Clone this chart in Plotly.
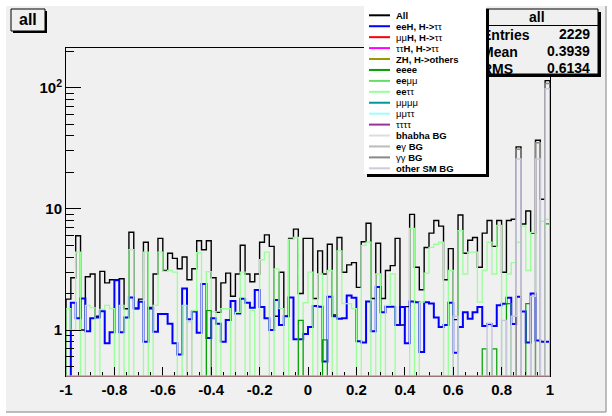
import numpy as np
import plotly.graph_objects as go

# ---------------- histogram contents: 100 bins on [-1, 1] ----------------
X_LO, X_HI, N_BINS = -1.0, 1.0, 100

all_counts = [
    1.8, 2.7, 6.0, 1.0, 2.75, 2.9, 1.3, 3.05, 2.45, 2.6,
    2.6, 2.65, 1.5, 6.4, 1.5, 1.8, 5.3, 1.5, 2.9, 5.7,
    3.1, 4.3, 3.9, 3.2, 4.0, 2.6, 3.2, 5.45, 4.6, 5.45,
    2.7, 1.4, 2.45, 2.95, 1.9, 2.9, 5.0, 2.9, 2.5, 2.9,
    5.3, 6.1, 4.9, 1.3, 3.0, 1.3, 5.7, 6.8, 2.0, 5.7,
    5.7, 1.82, 4.5, 2.9, 5.1, 1.33, 5.8, 3.0, 3.45, 3.6,
    2.25, 5.35, 7.6, 1.82, 5.2, 1.82, 3.1, 3.4, 5.7, 1.1,
    1.56, 9.0, 3.3, 2.15, 4.8, 6.3, 8.0, 7.2, 2.6, 4.7,
    1.22, 8.9, 4.3, 5.5, 5.8, 3.3, 6.3, 8.0, 4.9, 8.0,
    3.0, 8.0, 8.2, 32.4, 7.5, 9.6, 6.3, 36.8, 12.0, 114.0,
]

eeH_counts = [
    0.0, 1.68, 1.25, 1.82, 0.98, 1.25, 1.27, 1.43, 0.78, 0.96,
    2.58, 0.96, 1.27, 1.86, 1.51, 1.71, 0.8, 1.53, 0.97, 1.36,
    1.36, 1.13, 0.78, 0.63, 2.2, 1.23, 1.42, 0.95, 2.4, 0.86,
    1.25, 1.13, 0.8, 1.21, 1.74, 1.37, 1.81, 1.68, 1.53, 2.14,
    1.55, 1.25, 1.0, 1.77, 1.1, 1.3, 1.86, 0.84, 0.84, 0.93,
    1.06, 1.58, 1.56, 0.55, 1.88, 1.3, 1.24, 1.25, 1.93, 1.85,
    0.81, 0.79, 1.72, 0.98, 2.27, 1.4, 1.56, 1.56, 1.1, 1.55,
    0.78, 1.72, 1.7, 0.66, 1.7, 1.66, 1.27, 1.06, 1.1, 1.68,
    0.65, 1.06, 1.4, 1.24, 1.4, 1.55, 1.08, 1.12, 1.08, 1.6,
    1.65, 1.85, 1.12, 1.88, 1.42, 0.79, 2.0, 0.82, 0.8, 0.8,
]

eetautau_counts = [
    1.5, 1.0, 4.4, 0.0, 1.6, 1.53, 0.0, 1.48, 1.6, 1.5,
    0.0, 1.6, 0.0, 4.6, 0.0, 0.0, 4.4, 0.0, 1.6, 4.4,
    3.05, 3.1, 3.0, 0.0, 1.6, 0.0, 1.45, 4.36, 0.0, 3.03,
    1.42, 0.0, 1.5, 1.5, 0.0, 1.4, 3.0, 0.0, 1.45, 0.0,
    3.8, 4.4, 0.0, 3.2, 1.5, 0.0, 5.6, 5.8, 0.0, 1.68,
    3.0, 0.0, 2.9, 0.0, 3.1, 0.0, 4.5, 1.65, 1.65, 1.5,
    0.0, 5.0, 5.3, 0.0, 2.9, 0.0, 1.6, 2.9, 0.0, 0.0,
    0.0, 6.9, 0.0, 1.7, 2.95, 4.8, 5.1, 5.3, 0.0, 3.1,
    0.0, 6.6, 2.9, 4.4, 4.4, 1.7, 3.1, 5.3, 2.9, 7.3,
    0.0, 2.9, 3.6, 5.3, 7.2, 3.1, 6.4, 0.0, 7.9, 8.2,
]

eeee_counts = [0.0] * 100
for b, v in [(29, 1.45), (48, 1.2), (53, 0.83), (86, 0.7), (88, 0.7),
             (91, 1.65), (95, 1.65), (99, 7.5)]:
    eeee_counts[b] = v

bhabha_counts = [0.0] * 100
bhabha_counts[25] = 1.17

gamgam_counts = [0.0] * 100
for b, v in [(93, 31.0), (97, 35.0), (99, 108.0)]:
    gamgam_counts[b] = v

other_sm_counts = [0.0] * 100
for b, v in [(80, 1.3), (87, 1.14), (90, 1.2), (92, 1.3), (93, 25.7),
             (96, 1.9), (97, 25.7), (99, 98.0)]:
    other_sm_counts[b] = v

x_tick_vals = [-1, -0.8, -0.6, -0.4, -0.2, 0, 0.2, 0.4, 0.6, 0.8, 1]
x_tick_text = ["-1", "-0.8", "-0.6", "-0.4", "-0.2", "0", "0.2", "0.4", "0.6", "0.8", "1"]
y_tick_vals = [1, 10, 100]
y_tick_text = ["1", "10", "10<sup>2</sup>"]
y_minor_vals = [0.5, 0.6, 0.7, 0.8, 0.9, 2, 3, 4, 5, 6, 7, 8, 9,
                20, 30, 40, 50, 60, 70, 80, 90, 200]

stats_title = "all"
stats_rows = [("Entries", "2229"), ("Mean", "0.3939"), ("RMS", "0.6134")]

legend_rows = [
    ("<b>All</b>", "#000000"),
    ("<b>eeH, H-&gt;</b>ττ", "#0000ff"),
    ("μμ<b>H, H-&gt;</b>ττ", "#ff0000"),
    ("ττ<b>H, H-&gt;</b>ττ", "#ff00ff"),
    ("<b>ZH, H-&gt;others</b>", "#999900"),
    ("<b>eeee</b>", "#00a000"),
    ("<b>ee</b>μμ", "#66dd66"),
    ("<b>ee</b>ττ", "#99ff99"),
    ("μμμμ", "#009999"),
    ("μμττ", "#99ffff"),
    ("ττττ", "#993399"),
    ("<b>bhabha BG</b>", "#dddddd"),
    ("<b>e</b>γ <b>BG</b>", "#bbbbbb"),
    ("γγ <b>BG</b>", "#888888"),
    ("<b>other SM BG</b>", "#ccccdd"),
]

# ---------------- drawing helpers ----------------
W, H = 612, 416
L, R, T, B = 66, 550, 48, 376           # frame in pixels
Y_MIN, Y_MAX = 0.418, 212.0
FLOOR = 1e-3                              # empty bins fall below the frame

edges = np.linspace(X_LO, X_HI, N_BINS + 1)


def step(vals):
    v = [c if c > 0 else FLOOR for c in vals]
    xs = [edges[0]] + list(edges) + [edges[-1]]
    ys = [FLOOR] + v + [v[-1], FLOOR]
    return xs, ys


def px(x):
    return (x - L) / (R - L)


def py(y):
    return (B - y) / (B - T)


BOLD = "Liberation Sans"

fig = go.Figure()

series = [
    (all_counts, "#000000", 1.4),
    (eeH_counts, "#0000ff", 2.0),
    (eetautau_counts, "#99ff99", 1.3),
    (eeee_counts, "#00a000", 1.2),
    (bhabha_counts, "#cccccc", 1.3),
    (gamgam_counts, "#888888", 1.5),
    (other_sm_counts, "#c8c8dc", 1.5),
]
for vals, col, w in series:
    xs, ys = step(vals)
    fig.add_trace(go.Scatter(x=xs, y=ys, mode="lines", line=dict(color=col, width=w, shape="hv"),
                             hoverinfo="skip", showlegend=False))

# carrier for the secondary log axis holding the minor y ticks
fig.add_trace(go.Scatter(x=[0], y=[1], yaxis="y2", mode="markers", marker=dict(opacity=0),
                         hoverinfo="skip", showlegend=False))

shapes = []
annotations = []

# canvas pad with its bevel
shapes.append(dict(type="rect", xref="paper", yref="paper", x0=px(6), x1=px(606), y0=py(412), y1=py(6),
                   fillcolor="#f0f0f0", line=dict(width=0), layer="below"))
shapes.append(dict(type="line", xref="paper", yref="paper", x0=px(606), x1=px(606), y0=py(412), y1=py(6),
                   line=dict(color="#a8a8a8", width=1.5), layer="below"))
shapes.append(dict(type="line", xref="paper", yref="paper", x0=px(6), x1=px(606), y0=py(412), y1=py(412),
                   line=dict(color="#a8a8a8", width=1.5), layer="below"))

# bottom edge coloured by the empty histograms lying on the frame
shapes.append(dict(type="line", xref="paper", yref="paper", x0=0, x1=1, y0=0, y1=0,
                   line=dict(color="#d09aa0", width=1.5), layer="above"))


def box(x0, y0, x1, y1, fill, shadow=3, border=1, border_col="black"):
    # shadow first, then the box
    shapes.append(dict(type="rect", xref="paper", yref="paper",
                       x0=px(x0 + shadow), x1=px(x1 + shadow), y0=py(y1 + shadow), y1=py(y0 + shadow),
                       fillcolor="black", line=dict(width=0), layer="above"))
    shapes.append(dict(type="rect", xref="paper", yref="paper",
                       x0=px(x0), x1=px(x1), y0=py(y1), y1=py(y0),
                       fillcolor=fill, line=dict(color=border_col, width=border), layer="above"))


# title pave
box(11, 9, 45, 31, "#f0f0f0", shadow=2)
annotations.append(dict(text="<b>all</b>", x=px(28), y=py(20), xref="paper", yref="paper",
                        showarrow=False, font=dict(family=BOLD, size=16, color="black"),
                        xanchor="center", yanchor="middle"))

# statistics box
box(476, 9, 598, 74, "#f0f0f0", shadow=3)
shapes.append(dict(type="line", xref="paper", yref="paper", x0=px(476), x1=px(598),
                   y0=py(25.5), y1=py(25.5), line=dict(color="black", width=1), layer="above"))
for i, (name, val) in enumerate(stats_rows):
    yc = 34 + 16.8 * i
    shapes.append(dict(type="rect", xref="paper", yref="paper",
                       x0=px(479), x1=px(540), y0=py(yc + 7), y1=py(yc - 7),
                       line=dict(width=0), fillcolor="rgba(0,0,0,0)", layer="above",
                       label=dict(text="<b>%s</b>" % name, textposition="middle left", padding=0,
                                  font=dict(family=BOLD, size=14, color="black"))))
    annotations.append(dict(text="<b>%s</b>" % val, x=px(592), y=py(yc), xref="paper", yref="paper",
                            showarrow=False, font=dict(family=BOLD, size=14, color="black"),
                            xanchor="right", yanchor="middle"))
annotations.append(dict(text="<b>%s</b>" % stats_title, x=px(537), y=py(17), xref="paper", yref="paper",
                        showarrow=False, font=dict(family=BOLD, size=14, color="black"),
                        xanchor="center", yanchor="middle"))

# legend pave (drawn over the stats box)
shapes.append(dict(type="rect", xref="paper", yref="paper", x0=px(367), x1=px(489),
                   y0=py(177), y1=py(9), fillcolor="black", line=dict(width=0), layer="above"))
shapes.append(dict(type="rect", xref="paper", yref="paper", x0=px(364), x1=px(486),
                   y0=py(174), y1=py(6), fillcolor="white", line=dict(width=0), layer="above"))
for i, (lab, col) in enumerate(legend_rows):
    yc = 15.3 + 10.93 * i
    shapes.append(dict(type="line", xref="paper", yref="paper", x0=px(369), x1=px(390),
                       y0=py(yc), y1=py(yc), line=dict(color=col, width=2), layer="above"))
    annotations.append(dict(text=lab, x=px(394), y=py(yc), xref="paper", yref="paper",
                            showarrow=False, font=dict(family=BOLD, size=9.5, color="black"),
                            xanchor="left", yanchor="middle"))

y_range = [np.log10(Y_MIN), np.log10(Y_MAX)]

fig.update_layout(
    width=W, height=H, autosize=False,
    margin=dict(l=L, r=W - R, t=T, b=H - B, pad=0),
    paper_bgcolor="white", plot_bgcolor="#f0f0f0",
    showlegend=False,
    shapes=shapes, annotations=annotations,
    xaxis=dict(range=[X_LO, X_HI], showgrid=False, zeroline=False,
               showline=True, linecolor="black", linewidth=1, mirror=True,
               ticks="inside", ticklen=9, tickcolor="black", tickwidth=1,
               tickvals=x_tick_vals, ticktext=x_tick_text,
               tickfont=dict(family=BOLD, size=15, color="black", weight="bold"),
               minor=dict(ticks="inside", ticklen=4.5, dtick=0.05, tick0=0, tickcolor="black",
                          showgrid=False)),
    yaxis=dict(type="log", range=y_range, showgrid=False, zeroline=False,
               showline=True, linecolor="black", linewidth=1, mirror=True,
               ticks="inside", ticklen=15, tickcolor="black", tickwidth=1,
               tickvals=y_tick_vals, ticktext=y_tick_text,
               tickfont=dict(family=BOLD, size=15, color="black", weight="bold")),
    yaxis2=dict(type="log", range=y_range, overlaying="y", side="left", showgrid=False,
                zeroline=False, showline=False, ticks="inside", ticklen=8, tickcolor="black",
                tickwidth=1, tickmode="array", tickvals=y_minor_vals, showticklabels=False),
)

fig.write_html("out.html")
